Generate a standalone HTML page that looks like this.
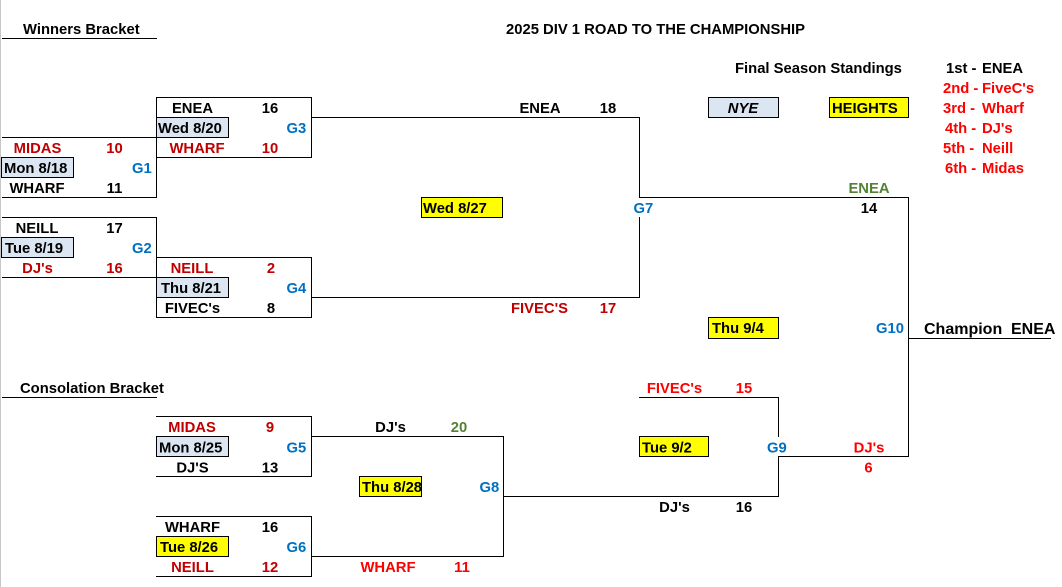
<!DOCTYPE html>
<html>
<head>
<meta charset="utf-8">
<style>
  html,body{margin:0;padding:0;background:#fff;}
  body{width:1062px;height:587px;overflow:hidden;}
  svg{display:block;}
  text{font-family:"Liberation Sans",Arial,sans-serif;font-weight:bold;font-size:14.8px;}
  .k{fill:#000;}
  .dr{fill:#c00000;}
  .r{fill:#ff0000;}
  .b{fill:#0070c0;}
  .g{fill:#548235;}
  .m{text-anchor:middle;}
  .ln{stroke:#000;stroke-width:1;fill:none;}
  .bl{fill:#dce6f2;stroke:#000;stroke-width:1;}
  .ye{fill:#ffff00;stroke:#000;stroke-width:1;}
</style>
</head>
<body>
<svg width="1062" height="587" viewBox="0 0 1062 587" xmlns="http://www.w3.org/2000/svg" shape-rendering="crispEdges">
  <rect x="0" y="0" width="1062" height="587" fill="#fff"/>
  <rect x="0" y="0" width="1" height="587" fill="#c8c8c8"/>

  <g class="ln">
    <line x1="2" y1="38.5" x2="157" y2="38.5"/>
    <line x1="156" y1="97.5" x2="312" y2="97.5"/>
    <line x1="156" y1="157.5" x2="312" y2="157.5"/>
    <line x1="156.5" y1="97" x2="156.5" y2="198"/>
    <line x1="311.5" y1="97" x2="311.5" y2="158"/>
    <line x1="2" y1="137.5" x2="157" y2="137.5"/>
    <line x1="2" y1="197.5" x2="157" y2="197.5"/>
    <line x1="2" y1="217.5" x2="157" y2="217.5"/>
    <line x1="2" y1="277.5" x2="157" y2="277.5"/>
    <line x1="156.5" y1="217" x2="156.5" y2="318"/>
    <line x1="156" y1="257.5" x2="312" y2="257.5"/>
    <line x1="156" y1="317.5" x2="312" y2="317.5"/>
    <line x1="311.5" y1="257" x2="311.5" y2="318"/>
    <line x1="311" y1="117.5" x2="640" y2="117.5"/>
    <line x1="639.5" y1="117" x2="639.5" y2="198"/>
    <line x1="639" y1="197.5" x2="909" y2="197.5"/>
    <line x1="639.5" y1="217" x2="639.5" y2="298"/>
    <line x1="311" y1="297.5" x2="640" y2="297.5"/>
    <line x1="908.5" y1="197" x2="908.5" y2="457"/>
    <line x1="908" y1="338.5" x2="1051" y2="338.5"/>
    <line x1="639" y1="397.5" x2="779" y2="397.5"/>
    <line x1="778.5" y1="397" x2="778.5" y2="437"/>
    <line x1="778.5" y1="456" x2="778.5" y2="497"/>
    <line x1="778" y1="456.5" x2="909" y2="456.5"/>
    <line x1="503" y1="496.5" x2="779" y2="496.5"/>
    <line x1="2" y1="397.5" x2="157" y2="397.5"/>
    <line x1="156" y1="416.5" x2="312" y2="416.5"/>
    <line x1="156" y1="476.5" x2="312" y2="476.5"/>
    <line x1="311.5" y1="416" x2="311.5" y2="477"/>
    <line x1="311" y1="436.5" x2="504" y2="436.5"/>
    <line x1="503.5" y1="436" x2="503.5" y2="557"/>
    <line x1="311" y1="556.5" x2="504" y2="556.5"/>
    <line x1="156" y1="516.5" x2="312" y2="516.5"/>
    <line x1="156" y1="576.5" x2="312" y2="576.5"/>
    <line x1="311.5" y1="516" x2="311.5" y2="577"/>
  </g>

  <rect class="bl" x="1.5" y="157.5" width="72" height="20"/>
  <rect class="bl" x="1.5" y="237.5" width="72" height="20"/>
  <rect class="bl" x="156.5" y="117.5" width="72" height="20"/>
  <rect class="bl" x="156.5" y="277.5" width="72" height="20"/>
  <rect class="bl" x="708.5" y="97.5" width="70" height="20"/>
  <rect class="ye" x="829.5" y="97.5" width="79" height="20"/>
  <rect class="ye" x="421.5" y="197.5" width="81" height="20"/>
  <rect class="ye" x="708.5" y="317.5" width="70" height="21"/>
  <rect class="ye" x="639.5" y="436.5" width="69" height="20"/>
  <rect class="bl" x="156.5" y="436.5" width="72" height="20"/>
  <rect class="ye" x="359.5" y="476.5" width="62" height="20"/>
  <rect class="ye" x="156.5" y="536.5" width="72" height="20"/>

  <g shape-rendering="auto">
    <text class="k" x="23" y="34">Winners Bracket</text>
    <text class="k" x="506" y="34">2025 DIV 1 ROAD TO THE CHAMPIONSHIP</text>

    <text class="k" x="735" y="73">Final Season Standings</text>
    <text class="k" x="946" y="73">1st -</text>
    <text class="k" x="982" y="73">ENEA</text>
    <text class="r" x="943" y="93">2nd -</text>
    <text class="r" x="982" y="93">FiveC's</text>
    <text class="r" x="943" y="113">3rd -</text>
    <text class="r" x="982" y="113">Wharf</text>
    <text class="r" x="945" y="133">4th -</text>
    <text class="r" x="982" y="133">DJ's</text>
    <text class="r" x="943" y="153">5th -</text>
    <text class="r" x="982" y="153">Neill</text>
    <text class="r" x="945" y="173">6th -</text>
    <text class="r" x="982" y="173">Midas</text>

    <text class="k m" x="192.5" y="113">ENEA</text>
    <text class="k m" x="270" y="113">16</text>
    <text class="k" x="158" y="133">Wed 8/20</text>
    <text class="b" x="286.5" y="133">G3</text>
    <text class="dr m" x="197" y="153">WHARF</text>
    <text class="dr m" x="270" y="153">10</text>

    <text class="k m" x="540" y="113">ENEA</text>
    <text class="k m" x="608" y="113">18</text>
    <text class="k m" x="743" y="113" font-style="italic">NYE</text>
    <text class="k" x="832" y="113">HEIGHTS</text>

    <text class="dr m" x="37.5" y="153">MIDAS</text>
    <text class="dr m" x="114.5" y="153">10</text>
    <text class="k" x="4" y="173">Mon 8/18</text>
    <text class="b" x="132" y="173">G1</text>
    <text class="k m" x="37" y="193">WHARF</text>
    <text class="k m" x="114.5" y="193">11</text>

    <text class="g m" x="869" y="193">ENEA</text>
    <text class="k" x="423" y="213">Wed 8/27</text>
    <text class="b" x="633.5" y="213">G7</text>
    <text class="k m" x="869" y="213">14</text>

    <text class="k m" x="37" y="233">NEILL</text>
    <text class="k m" x="114.5" y="233">17</text>
    <text class="k" x="5" y="253">Tue 8/19</text>
    <text class="b" x="132" y="253">G2</text>
    <text class="dr m" x="37.5" y="273">DJ's</text>
    <text class="dr m" x="114.5" y="273">16</text>

    <text class="dr m" x="192" y="273">NEILL</text>
    <text class="dr m" x="271" y="273">2</text>
    <text class="k" x="161" y="293">Thu 8/21</text>
    <text class="b" x="286.5" y="293">G4</text>
    <text class="k m" x="192.5" y="313">FIVEC's</text>
    <text class="k m" x="271" y="313">8</text>

    <text class="dr m" x="539.5" y="313">FIVEC'S</text>
    <text class="dr m" x="608" y="313">17</text>

    <text class="k" x="712" y="333">Thu 9/4</text>
    <text class="b" x="876" y="333">G10</text>
    <text class="k" x="924" y="334" style="font-size:16px">Champion</text>
    <text class="k" x="1011" y="334" style="font-size:16px">ENEA</text>

    <text class="k" x="20" y="393">Consolation Bracket</text>
    <text class="r m" x="674.5" y="393">FIVEC's</text>
    <text class="r m" x="744" y="393">15</text>

    <text class="dr m" x="192" y="432">MIDAS</text>
    <text class="dr m" x="270" y="432">9</text>
    <text class="k m" x="390.5" y="432">DJ's</text>
    <text class="g m" x="459" y="432">20</text>
    <text class="k" x="159" y="452.5">Mon 8/25</text>
    <text class="b" x="286.5" y="452.5">G5</text>
    <text class="k" x="642" y="452.5">Tue 9/2</text>
    <text class="b" x="767" y="452.5">G9</text>
    <text class="r m" x="869" y="452.5">DJ's</text>
    <text class="k m" x="192.5" y="472.5">DJ'S</text>
    <text class="k m" x="270" y="472.5">13</text>
    <text class="r m" x="868.5" y="472.5">6</text>

    <text class="k" x="362" y="492">Thu 8/28</text>
    <text class="b" x="479.5" y="492">G8</text>
    <text class="k m" x="674.5" y="512">DJ's</text>
    <text class="k m" x="744" y="512">16</text>

    <text class="k m" x="192.5" y="532">WHARF</text>
    <text class="k m" x="270" y="532">16</text>
    <text class="k" x="160" y="552">Tue 8/26</text>
    <text class="b" x="286.5" y="552">G6</text>
    <text class="dr m" x="192.5" y="572">NEILL</text>
    <text class="dr m" x="270" y="572">12</text>
    <text class="r m" x="388" y="572">WHARF</text>
    <text class="r m" x="462" y="572">11</text>
  </g>
</svg>
</body>
</html>
